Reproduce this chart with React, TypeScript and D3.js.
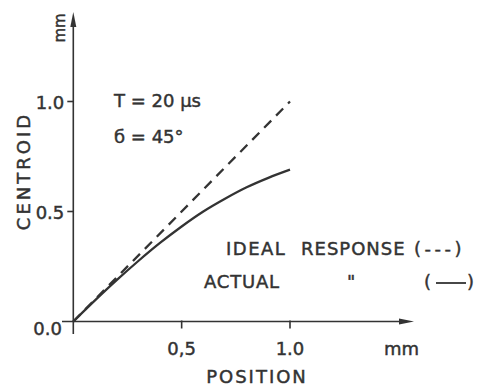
import React from "react";
import * as d3 from "d3";

const xTicks = [0.5, 1.0];
const xTickLabels = ["0,5", "1.0"];
const yTicks = [0.5, 1.0];
const yTickLabels = ["0.5", "1.0"];
const idealX = [0, 1.0];
const idealY = [0, 1.0];
const actualX = [0, 0.1, 0.2, 0.3, 0.4, 0.5, 0.6, 0.7, 0.8, 0.9, 1.0];
const actualY = [0, 0.096, 0.188, 0.275, 0.357, 0.432, 0.5, 0.558, 0.61, 0.653, 0.69];

const W = 480;
const H = 389;
const ink = "#333333";
const font = "'DejaVu Sans', sans-serif";

const txt = {
  fontFamily: font,
  fontSize: 18,
  fill: ink,
  stroke: ink,
  strokeWidth: 0.45,
} as const;

export default function App() {
  const x = d3.scaleLinear().domain([0, 1]).range([73.3, 290]);
  const y = d3.scaleLinear().domain([0, 1]).range([321.5, 101.5]);
  const line = d3
    .line<[number, number]>()
    .x((d) => x(d[0]))
    .y((d) => y(d[1]))
    .curve(d3.curveCatmullRom);
  const ideal = idealX.map((v, i) => [v, idealY[i]] as [number, number]);
  const actual = actualX.map((v, i) => [v, actualY[i]] as [number, number]);
  const x0 = x(0);
  const y0 = y(0);
  const xEnd = 414;
  const yTop = 12;

  return (
    <svg
      width={W}
      height={H}
      style={{ position: "absolute", left: 0, top: 0, background: "#fff" }}
    >
      {/* axes */}
      <line x1={62} y1={y0} x2={xEnd - 8} y2={y0} stroke={ink} strokeWidth={1.6} />
      <path d={`M${xEnd},${y0} L${xEnd - 15},${y0 - 3} L${xEnd - 15},${y0 + 3} Z`} fill={ink} />
      <line x1={x0} y1={334} x2={x0} y2={yTop + 8} stroke={ink} strokeWidth={1.6} />
      <path d={`M${x0},${yTop} L${x0 - 3},${yTop + 15} L${x0 + 3},${yTop + 15} Z`} fill={ink} />

      {xTicks.map((t, i) => (
        <g key={"xt" + i}>
          <line x1={x(t)} y1={y0 - 1} x2={x(t)} y2={y0 + 7} stroke={ink} strokeWidth={1.6} />
          <text {...txt} x={x(t)} y={355} textAnchor="middle">
            {xTickLabels[i]}
          </text>
        </g>
      ))}
      {yTicks.map((t, i) => (
        <g key={"yt" + i}>
          <line x1={x0 - 6} y1={y(t)} x2={x0} y2={y(t)} stroke={ink} strokeWidth={1.6} />
          <text {...txt} x={x0 - 9} y={y(t) + 7} textAnchor="end">
            {yTickLabels[i]}
          </text>
        </g>
      ))}
      <text {...txt} x={62} y={335} textAnchor="end">
        0.0
      </text>
      <text {...txt} x={384} y={355}>
        mm
      </text>
      <text {...txt} x={257} y={383} textAnchor="middle" letterSpacing={2}>
        POSITION
      </text>
      <text
        {...txt}
        transform="translate(30,171) rotate(-90)"
        textAnchor="middle"
        letterSpacing={3}
      >
        CENTROID
      </text>
      <text {...txt} fontSize={15} transform="translate(65,28) rotate(-90)" textAnchor="middle">
        mm
      </text>

      <text {...txt} x={114} y={107}>
        T = 20 μs
      </text>
      <text {...txt} x={114} y={143}>
        б = 45°
      </text>

      <text {...txt} x={226} y={255} letterSpacing={1.5}>
        IDEAL
      </text>
      <text {...txt} x={301} y={255} letterSpacing={1}>
        RESPONSE
      </text>
      <text {...txt} x={414} y={255} letterSpacing={3.5}>
        (---)
      </text>
      <text {...txt} x={204} y={288} letterSpacing={0.8}>
        ACTUAL
      </text>
      <text {...txt} x={347} y={288}>
        "
      </text>
      <text {...txt} x={424} y={288}>
        (
      </text>
      <line x1={436} y1={283} x2={466} y2={283} stroke={ink} strokeWidth={1.8} />
      <text {...txt} x={467} y={288}>
        )
      </text>

      {/* series */}
      <path
        d={line(ideal) || ""}
        fill="none"
        stroke={ink}
        strokeWidth={2.3}
        strokeDasharray="10,7"
      />
      <path d={line(actual) || ""} fill="none" stroke={ink} strokeWidth={2.3} />
    </svg>
  );
}
